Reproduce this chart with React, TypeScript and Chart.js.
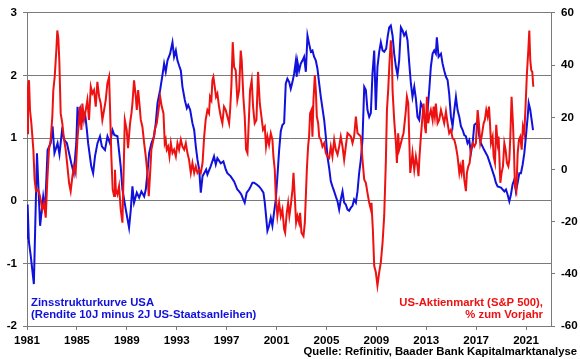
import React, { useEffect, useRef } from "react";
import { Chart, registerables } from "chart.js";

Chart.register(...registerables);

// Zinsstrukturkurve USA (10J minus 2J), [Jahr, Prozentpunkte]
const yieldSpread: [number, number][] = [
  [1981.0, -0.6], [1981.05, -0.06], [1981.15, -0.65], [1981.3, -0.88], [1981.55, -1.33],
  [1981.8, 0.76], [1982.05, -0.4], [1982.3, 0.07], [1982.45, -0.14], [1982.65, 0.81],
  [1982.9, 0.92], [1983.05, 1.19], [1983.2, 0.76], [1983.45, 0.92], [1983.6, 0.74],
  [1983.8, 1.11], [1984.0, 0.97], [1984.2, 0.92], [1984.55, 0.6], [1984.75, 0.44],
  [1984.95, 0.92], [1985.05, 1.5], [1985.15, 1.24], [1985.3, 1.45], [1985.45, 1.29],
  [1985.65, 1.4], [1985.8, 1.13], [1985.9, 0.92], [1986.15, 0.55], [1986.3, 0.44],
  [1986.45, 0.71], [1986.65, 0.92], [1986.85, 1.03], [1987.0, 0.87], [1987.25, 0.81],
  [1987.45, 1.03], [1987.65, 0.92], [1987.85, 1.13], [1988.0, 1.05], [1988.25, 1.03],
  [1988.51, 0.55], [1988.65, 0.18], [1988.92, -0.14], [1989.18, -0.43], [1989.32, -0.14],
  [1989.45, 0.23], [1989.58, -0.03], [1989.8, 0.13], [1989.99, 0.05], [1990.17, 0.15],
  [1990.39, 0.07], [1990.52, 0.18], [1990.65, 0.44], [1990.79, 0.76], [1990.97, 0.92],
  [1991.19, 1.03], [1991.32, 1.24], [1991.46, 1.56], [1991.67, 1.77], [1991.86, 2.01],
  [1991.99, 2.19], [1992.12, 2.06], [1992.26, 2.24], [1992.47, 2.35], [1992.66, 2.53],
  [1992.79, 2.3], [1992.93, 2.4], [1993.06, 2.24], [1993.19, 2.16], [1993.33, 2.08],
  [1993.46, 1.82], [1993.65, 1.61], [1993.81, 1.48], [1993.92, 1.53], [1994.08, 1.45],
  [1994.26, 1.24], [1994.4, 1.13], [1994.53, 0.87], [1994.66, 0.66], [1994.8, 0.5],
  [1994.93, 0.13], [1995.07, 0.39], [1995.2, 0.44], [1995.36, 0.5], [1995.46, 0.42],
  [1995.72, 0.55], [1995.99, 0.71], [1996.13, 0.58], [1996.26, 0.68], [1996.53, 0.6],
  [1996.74, 0.63], [1996.93, 0.5], [1997.06, 0.44], [1997.33, 0.39], [1997.6, 0.31],
  [1997.86, 0.18], [1998.0, 0.15], [1998.18, 0.1], [1998.34, 0.02], [1998.45, -0.03],
  [1998.61, 0.13], [1998.8, 0.18], [1998.93, 0.23], [1999.07, 0.29], [1999.2, 0.29],
  [1999.41, 0.26], [1999.6, 0.23], [1999.79, 0.18], [1999.95, 0.13], [2000.06, -0.03],
  [2000.16, -0.24], [2000.27, -0.48], [2000.4, -0.4], [2000.54, -0.27], [2000.67, -0.4],
  [2000.8, -0.19], [2000.94, 0.02], [2001.07, 0.39], [2001.21, 0.81], [2001.34, 1.11],
  [2001.47, 1.21], [2001.61, 1.24], [2001.74, 1.87], [2001.87, 1.95], [2002.01, 1.9],
  [2002.14, 1.79], [2002.28, 1.9], [2002.41, 2.03], [2002.54, 2.22], [2002.62, 1.98],
  [2002.68, 2.22], [2002.81, 2.08], [2002.94, 2.19], [2003.08, 2.24], [2003.21, 2.3],
  [2003.35, 2.06], [2003.48, 2.64], [2003.61, 2.51], [2003.75, 2.38], [2003.88, 2.4],
  [2004.01, 2.3], [2004.15, 2.24], [2004.28, 2.11], [2004.42, 1.87], [2004.55, 1.66],
  [2004.68, 1.48], [2004.82, 1.29], [2004.95, 1.03], [2005.08, 0.71], [2005.22, 0.52],
  [2005.35, 0.31], [2005.48, 0.23], [2005.62, 0.15], [2005.75, 0.07], [2005.89, -0.01],
  [2006.02, -0.14], [2006.15, 0.02], [2006.29, 0.15], [2006.42, -0.03], [2006.55, -0.06],
  [2006.69, -0.14], [2006.82, -0.16], [2006.96, -0.11], [2007.09, -0.08], [2007.22, 0.02],
  [2007.36, -0.03], [2007.49, 0.15], [2007.62, 0.44], [2007.76, 0.66], [2007.89, 0.97],
  [2008.03, 1.82], [2008.16, 1.77], [2008.29, 1.45], [2008.43, 1.34], [2008.56, 1.4],
  [2008.69, 2.03], [2008.83, 2.4], [2008.96, 1.45], [2009.09, 2.14], [2009.23, 2.38],
  [2009.36, 2.53], [2009.5, 2.4], [2009.63, 2.38], [2009.79, 2.43], [2009.9, 2.61],
  [2010.03, 2.77], [2010.16, 2.8], [2010.3, 2.64], [2010.43, 2.35], [2010.57, 2.14],
  [2010.7, 2.01], [2010.83, 2.24], [2010.97, 2.77], [2011.1, 2.72], [2011.23, 2.64],
  [2011.37, 2.69], [2011.5, 2.56], [2011.64, 2.19], [2011.77, 1.87], [2011.9, 1.66],
  [2012.04, 1.82], [2012.17, 1.63], [2012.3, 1.34], [2012.44, 1.29], [2012.57, 1.56],
  [2012.71, 1.5], [2012.84, 1.4], [2012.97, 1.24], [2013.11, 1.45], [2013.24, 1.77],
  [2013.37, 2.14], [2013.51, 2.35], [2013.64, 2.4], [2013.77, 2.35], [2013.85, 2.61],
  [2013.99, 2.3], [2014.18, 2.35], [2014.31, 2.19], [2014.44, 2.08], [2014.58, 1.98],
  [2014.71, 1.93], [2014.84, 1.71], [2014.98, 1.34], [2015.11, 1.19], [2015.25, 1.45],
  [2015.38, 1.66], [2015.51, 1.45], [2015.65, 1.34], [2015.78, 1.19], [2015.92, 1.13],
  [2016.05, 1.05], [2016.18, 1.03], [2016.31, 0.92], [2016.45, 0.97], [2016.58, 0.76],
  [2016.72, 0.92], [2016.85, 1.21], [2017.01, 1.24], [2017.12, 1.21], [2017.25, 1.03],
  [2017.38, 0.92], [2017.65, 0.81], [2017.92, 0.71], [2018.19, 0.55], [2018.45, 0.39],
  [2018.58, 0.29], [2018.72, 0.23], [2018.99, 0.21], [2019.26, 0.15], [2019.39, 0.18],
  [2019.52, 0.1], [2019.66, -0.01], [2019.79, 0.1], [2019.92, 0.26], [2020.06, 0.34],
  [2020.19, 0.15], [2020.33, 0.29], [2020.46, 0.44], [2020.59, 0.44], [2020.73, 0.58],
  [2020.86, 0.76], [2020.99, 1.03], [2021.13, 1.34], [2021.21, 1.56], [2021.34, 1.45],
  [2021.45, 1.29], [2021.56, 1.13],
];

// US-Aktienmarkt (S&P 500), % zum Vorjahr, [Jahr, %]
const sp500Yoy: [number, number][] = [
  [1981.0, 13.9], [1981.08, 31.7], [1981.16, 34.2], [1981.24, 22.8], [1981.35, 17.7],
  [1981.51, 7.6], [1981.61, -3.9], [1981.72, -8.3], [1981.88, -7.7], [1982.04, -10.2],
  [1982.23, -15.3], [1982.36, -12.8], [1982.5, -18.5], [1982.63, -3.9], [1982.76, 7.6],
  [1982.9, 11.4], [1983.03, 20.3], [1983.11, 30.4], [1983.22, 35.5], [1983.35, 45.6],
  [1983.43, 53.3], [1983.51, 50.5], [1983.59, 41.8], [1983.7, 21.5], [1983.83, 17.7],
  [1983.97, 11.4], [1984.1, 7.6], [1984.24, 1.2], [1984.37, -5.1], [1984.5, -8.3],
  [1984.64, -2.6], [1984.77, 1.2], [1984.9, -1.3], [1985.04, 11.4], [1985.17, 19.0],
  [1985.25, 24.1], [1985.36, 15.2], [1985.44, 25.3], [1985.57, 19.0], [1985.71, 22.8],
  [1985.84, 26.6], [1985.97, 19.0], [1986.11, 31.7], [1986.24, 29.1], [1986.37, 30.4],
  [1986.51, 24.1], [1986.64, 33.6], [1986.78, 27.9], [1986.91, 25.3], [1987.04, 19.0],
  [1987.18, 22.8], [1987.31, 26.6], [1987.44, 32.9], [1987.58, 35.5], [1987.66, 22.8],
  [1987.76, 5.0], [1987.87, -7.7], [1987.98, -10.2], [1988.05, -0.1], [1988.12, -7.7],
  [1988.25, -9.6], [1988.38, -6.4], [1988.51, -15.3], [1988.65, -20.4], [1988.84, 19.0],
  [1988.99, 15.2], [1989.1, 8.2], [1989.26, 17.7], [1989.37, 21.5], [1989.45, 25.3],
  [1989.58, 34.2], [1989.72, 27.9], [1989.8, 22.8], [1989.91, 30.4], [1990.01, 25.3],
  [1990.12, 19.0], [1990.25, 16.4], [1990.39, 10.1], [1990.52, 5.0], [1990.65, -1.3],
  [1990.76, -10.2], [1990.87, -1.3], [1990.97, 7.6], [1991.13, 11.4], [1991.24, 15.2],
  [1991.4, 17.7], [1991.54, 22.8], [1991.67, 27.9], [1991.8, 24.1], [1991.94, 21.5],
  [1992.04, 10.1], [1992.12, 11.4], [1992.2, 7.6], [1992.31, 8.8], [1992.42, 5.0],
  [1992.53, 10.1], [1992.66, 6.3], [1992.79, 7.6], [1992.93, 5.0], [1993.06, 10.1],
  [1993.19, 7.6], [1993.33, 11.4], [1993.46, 8.8], [1993.6, 7.6], [1993.73, 10.1],
  [1993.86, 6.3], [1993.99, 3.7], [1994.13, -1.3], [1994.26, 2.5], [1994.4, -1.3],
  [1994.53, 1.2], [1994.66, -1.3], [1994.8, -0.1], [1994.93, -1.3], [1995.07, 2.5],
  [1995.2, 12.6], [1995.32, 19.0], [1995.46, 22.8], [1995.59, 21.5], [1995.67, 27.9],
  [1995.78, 26.6], [1995.86, 34.2], [1995.94, 35.5], [1996.05, 31.7], [1996.15, 27.9],
  [1996.26, 29.1], [1996.39, 24.1], [1996.53, 20.3], [1996.66, 17.7], [1996.79, 24.1],
  [1996.93, 22.8], [1997.06, 20.3], [1997.2, 17.7], [1997.28, 22.8], [1997.38, 31.7],
  [1997.49, 48.8], [1997.6, 39.3], [1997.73, 38.0], [1997.86, 26.6], [1998.0, 30.4],
  [1998.13, 45.6], [1998.21, 41.8], [1998.34, 27.9], [1998.45, 20.3], [1998.56, 7.6],
  [1998.67, 6.3], [1998.75, 15.2], [1998.88, 30.4], [1999.01, 34.2], [1999.12, 24.1],
  [1999.25, 17.7], [1999.39, 19.0], [1999.52, 37.4], [1999.66, 25.3], [1999.79, 20.3],
  [1999.92, 15.2], [2000.06, 16.4], [2000.16, 8.8], [2000.27, 12.6], [2000.4, 9.5],
  [2000.54, 13.9], [2000.67, 11.4], [2000.75, 5.0], [2000.86, -0.1], [2000.94, -10.2],
  [2001.07, -17.8], [2001.21, -12.8], [2001.34, -17.8], [2001.47, -15.3], [2001.61, -22.9],
  [2001.69, -24.2], [2001.82, -16.6], [2001.93, -12.8], [2002.03, -17.8], [2002.14, -14.0],
  [2002.28, -7.7], [2002.36, -1.3], [2002.46, -10.2], [2002.57, -20.4], [2002.68, -17.8],
  [2002.81, -20.4], [2002.89, -16.6], [2003.0, -24.2], [2003.16, -25.5], [2003.27, -20.4],
  [2003.35, -10.2], [2003.43, -0.1], [2003.53, 8.8], [2003.61, 12.6], [2003.69, 21.5],
  [2003.8, 22.8], [2003.88, 12.6], [2003.96, 26.6], [2004.07, 36.1], [2004.15, 30.4],
  [2004.23, 20.3], [2004.34, 17.7], [2004.42, 12.6], [2004.55, 11.4], [2004.68, 8.8],
  [2004.82, 10.1], [2004.95, 6.3], [2005.08, 5.0], [2005.22, 4.4], [2005.35, 8.8],
  [2005.48, 5.0], [2005.62, 11.4], [2005.75, 7.6], [2005.89, 5.7], [2006.02, 8.8],
  [2006.15, 12.6], [2006.29, 8.8], [2006.42, 3.7], [2006.55, 8.8], [2006.69, 13.9],
  [2006.82, 13.3], [2006.96, 12.6], [2007.09, 10.1], [2007.22, 12.6], [2007.36, 20.3],
  [2007.49, 13.9], [2007.62, 13.3], [2007.76, 12.6], [2007.89, 3.7], [2008.03, -3.9],
  [2008.16, -5.1], [2008.29, -9.0], [2008.43, -12.8], [2008.56, -15.3], [2008.61, -12.8],
  [2008.72, -22.9], [2008.83, -36.9], [2008.96, -39.4], [2009.09, -44.5], [2009.23, -39.4],
  [2009.36, -35.6], [2009.5, -28.0], [2009.63, -17.8], [2009.76, 2.5], [2009.85, 22.8],
  [2009.95, 30.4], [2010.05, 40.6], [2010.16, 49.5], [2010.24, 44.4], [2010.3, 30.4],
  [2010.43, 19.0], [2010.57, 10.1], [2010.65, 2.5], [2010.75, 13.9], [2010.83, 7.6],
  [2010.97, 10.1], [2011.1, 12.6], [2011.18, 13.9], [2011.29, 19.0], [2011.37, 22.8],
  [2011.45, 27.9], [2011.56, 25.3], [2011.64, 11.4], [2011.72, -1.3], [2011.82, 2.5],
  [2011.9, 6.3], [2012.04, -0.1], [2012.17, 5.0], [2012.3, 1.2], [2012.38, -2.6],
  [2012.46, 5.0], [2012.57, 12.6], [2012.7, 20.3], [2012.79, 25.3], [2012.89, 16.4],
  [2012.97, 13.9], [2013.05, 27.9], [2013.16, 17.7], [2013.24, 20.3], [2013.37, 22.8],
  [2013.51, 19.0], [2013.59, 24.1], [2013.69, 20.3], [2013.77, 25.3], [2013.91, 17.7],
  [2014.04, 19.0], [2014.18, 22.8], [2014.31, 20.3], [2014.44, 17.7], [2014.58, 22.2],
  [2014.71, 17.7], [2014.84, 13.9], [2014.98, 15.2], [2015.11, 12.0], [2015.25, 11.4],
  [2015.38, 8.8], [2015.51, 5.0], [2015.65, -1.3], [2015.73, 1.2], [2015.83, -1.3],
  [2015.94, 3.7], [2016.05, -3.9], [2016.18, -8.3], [2016.26, -1.3], [2016.37, 1.2],
  [2016.48, 2.5], [2016.58, 7.6], [2016.72, 10.1], [2016.85, 8.8], [2016.98, 10.1],
  [2017.12, 22.8], [2017.22, 17.7], [2017.33, 10.1], [2017.44, 12.6], [2017.6, 17.7],
  [2017.7, 19.0], [2017.81, 22.8], [2017.92, 20.3], [2018.03, 24.1], [2018.11, 17.7],
  [2018.19, 10.1], [2018.32, 12.6], [2018.4, 5.0], [2018.51, 2.5], [2018.61, 17.1],
  [2018.72, 10.1], [2018.8, 12.6], [2018.94, -5.1], [2019.04, -1.3], [2019.15, 1.2],
  [2019.26, 10.1], [2019.36, 7.6], [2019.47, 2.5], [2019.58, 1.2], [2019.66, 3.7],
  [2019.74, 12.6], [2019.84, 27.9], [2019.95, 17.7], [2020.03, 7.6], [2020.11, -6.4],
  [2020.22, -8.3], [2020.33, 6.3], [2020.43, 11.4], [2020.54, 12.6], [2020.65, 7.6],
  [2020.75, 16.4], [2020.86, 13.9], [2020.97, 25.3], [2021.07, 36.8], [2021.18, 45.6],
  [2021.26, 53.3], [2021.34, 41.8], [2021.42, 38.0], [2021.5, 37.4], [2021.58, 31.7],
];

const xTickYears = [1981, 1985, 1989, 1993, 1997, 2001, 2005, 2009, 2013, 2017, 2021];
const leftAxisRange = [-2, 3];
const rightAxisRange = [-60, 60];

const blueLegend = ["Zinsstrukturkurve USA", "(Rendite 10J minus 2J US-Staatsanleihen)"];
const redLegend = ["US-Aktienmarkt (S&P 500),", "% zum Vorjahr"];
const sourceText = "Quelle: Refinitiv, Baader Bank Kapitalmarktanalyse";

const FONT_FAMILY = '"Liberation Sans Narrow", "Liberation Sans", Arial, sans-serif';
const BLUE = "#1111dd";
const RED = "#ee1111";
const GRID = "#7a7a7a";

const textPlugin = {
  id: "annotations",
  afterDraw(chart: any) {
    const ctx = chart.ctx;
    ctx.save();
    ctx.font = `bold 11.3px ${FONT_FAMILY}`;
    ctx.textBaseline = "alphabetic";
    ctx.fillStyle = BLUE;
    ctx.textAlign = "left";
    ctx.fillText(blueLegend[0], 31, 306);
    ctx.fillText(blueLegend[1], 31, 318);
    ctx.fillStyle = RED;
    ctx.textAlign = "right";
    ctx.fillText(redLegend[0], 543, 306);
    ctx.fillText(redLegend[1], 543, 318);
    ctx.fillStyle = "#000";
    ctx.fillText(sourceText, 577, 355);
    ctx.restore();
  },
};

export default function App() {
  const canvasRef = useRef<HTMLCanvasElement | null>(null);

  useEffect(() => {
    document.body.style.margin = "0";
    const canvas = canvasRef.current;
    if (!canvas) return;
    const font = { family: FONT_FAMILY, size: 11.6, weight: "bold" as const };
    const chart = new Chart(canvas, {
      type: "line",
      data: {
        datasets: [
          {
            label: "US-Aktienmarkt (S&P 500), % zum Vorjahr",
            data: sp500Yoy.map(([x, y]) => ({ x, y })),
            borderColor: RED,
            borderWidth: 2,
            pointRadius: 0,
            tension: 0,
            yAxisID: "y1",
            order: 0,
          },
          {
            label: "Zinsstrukturkurve USA",
            data: yieldSpread.map(([x, y]) => ({ x, y })),
            borderColor: BLUE,
            borderWidth: 2,
            pointRadius: 0,
            tension: 0,
            yAxisID: "y",
            order: 1,
          },
        ],
      },
      options: {
        animation: false,
        responsive: false,
        events: [],
        layout: { padding: { top: 3, left: 0, right: 0, bottom: 0 } },
        plugins: {
          legend: { display: false },
          tooltip: { enabled: false },
          title: { display: false },
        },
        scales: {
          x: {
            type: "linear",
            min: 1981,
            max: 2023,
            afterBuildTicks: (scale: any) => {
              scale.ticks = xTickYears.map((v) => ({ value: v }));
            },
            afterFit: (scale: any) => {
              scale.height = 33;
            },
            ticks: {
              font,
              color: "#000",
              padding: 4,
              maxRotation: 0,
              autoSkip: false,
              callback: (v: any) => String(v),
            },
            grid: { drawOnChartArea: false, drawTicks: true, tickLength: 4, color: GRID },
            border: { display: true, color: GRID },
          },
          y: {
            position: "left",
            min: leftAxisRange[0],
            max: leftAxisRange[1],
            afterFit: (scale: any) => {
              scale.width = 27;
            },
            ticks: { stepSize: 1, font, color: "#000", padding: 6 },
            grid: { color: GRID, lineWidth: 1, drawTicks: true, tickLength: 4 },
            border: { display: true, color: GRID },
          },
          y1: {
            position: "right",
            min: rightAxisRange[0],
            max: rightAxisRange[1],
            afterFit: (scale: any) => {
              scale.width = 29;
            },
            ticks: { stepSize: 20, font, color: "#000", padding: 6 },
            grid: { drawOnChartArea: false, drawTicks: true, tickLength: 4, color: GRID },
            border: { display: true, color: GRID },
          },
        },
      },
      plugins: [textPlugin],
    });
    return () => chart.destroy();
  }, []);

  return (
    <div style={{ position: "relative", width: 580, height: 359, background: "#fff" }}>
      <canvas ref={canvasRef} width={580} height={359} style={{ display: "block" }} />
    </div>
  );
}
